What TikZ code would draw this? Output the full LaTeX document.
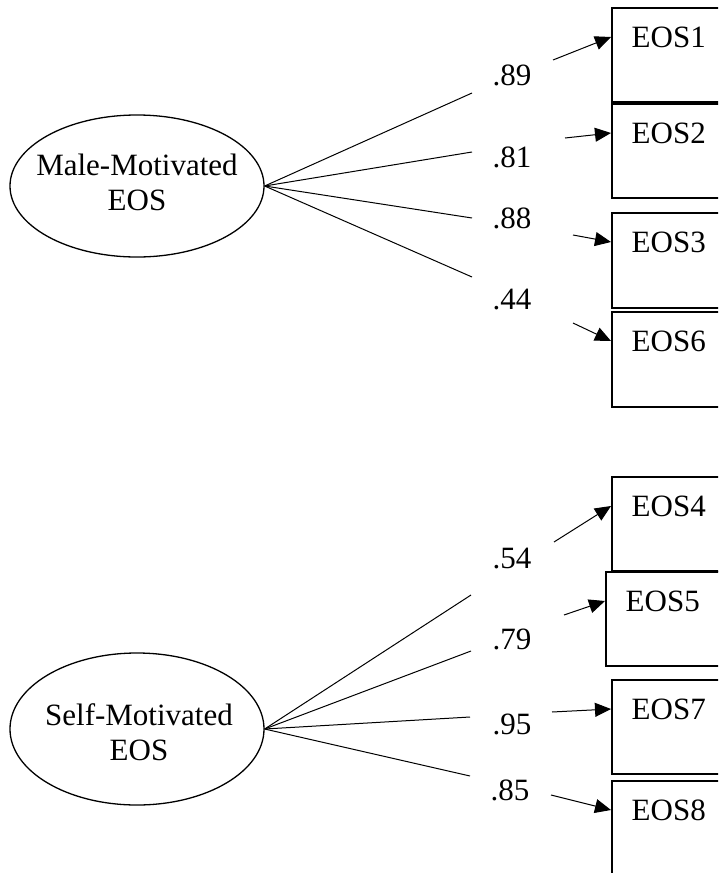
\documentclass[tikz,border=0pt]{standalone}
\usepackage{fontspec}
\setmainfont{Liberation Serif}
\usetikzlibrary{shapes.geometric,arrows.meta}
\begin{document}
\begin{tikzpicture}[x=1pt,y=-1pt,
  txt/.style={font=\fontsize{31}{35}\selectfont, inner sep=0pt},
  latent/.style={ellipse, draw, line width=1.3pt, inner sep=0pt, minimum width=254pt},
  obsbox/.style={draw, line width=1.5pt, minimum width=114pt, inner sep=0pt, anchor=north west},
  load/.style={line width=1pt},
  err/.style={line width=1pt, -{Triangle[length=16pt,width=14pt]}}]
\fill[white] (0,0) rectangle (718,873);
\useasboundingbox (0,0) rectangle (718,873);
\clip (0,0) rectangle (718,873);

% observed boxes
\node[obsbox, minimum height=94pt] (b1) at (611,7) {};
\node[obsbox, minimum height=94pt] (b2) at (611,103) {};
\node[obsbox, minimum height=95pt] (b3) at (611,212) {};
\node[obsbox, minimum height=95pt] (b6) at (611,311) {};
\node[obsbox, minimum height=94pt] (b4) at (611,476) {};
\node[obsbox, minimum height=94pt] (b5) at (605,571) {};
\node[obsbox, minimum height=94pt] (b7) at (611,679) {};
\node[obsbox, minimum height=96pt] (b8) at (611,780) {};
\foreach \b/\t in {b1/EOS1,b2/EOS2,b3/EOS3,b6/EOS6,b4/EOS4,b5/EOS5,b7/EOS7,b8/EOS8}{
  \node[txt] (t\b) at ([yshift=-30pt]\b.north) {\t};
}

% latent ellipses
\node[latent, minimum height=142pt] (m) at (137,186) {};
\node[txt, align=center] (mt) at (137,182.5) {Male-Motivated\\EOS};
\node[latent, minimum height=152pt] (s) at (137,729) {};
\node[txt, align=center] (st) at (139,732) {Self-Motivated\\EOS};

% loading line ends
\coordinate (m1) at (472,93);
\coordinate (m2) at (472,152);
\coordinate (m3) at (472,218);
\coordinate (m4) at (472,277);
\coordinate (s1) at (471,595);
\coordinate (s2) at (471,651);
\coordinate (s3) at (470,717);
\coordinate (s4) at (470,776);
\foreach \c in {m1,m2,m3,m4}{\draw[load] (m.east) -- (\c);}
\foreach \c in {s1,s2,s3,s4}{\draw[load] (s.east) -- (\c);}

% loadings
\node[txt] (l1) at (512,75) {.89};
\node[txt] (l2) at (512,157) {.81};
\node[txt] (l3) at (512,218) {.88};
\node[txt] (l6) at (512,300) {.44};
\node[txt] (l4) at (512,559) {.54};
\node[txt] (l5) at (512,639) {.79};
\node[txt] (l7) at (512,724) {.95};
\node[txt] (l8) at (510,790) {.85};

% arrows into boxes
\coordinate (a1) at (553,60);
\coordinate (a2) at (565,138);
\coordinate (a3) at (573,235);
\coordinate (a6) at (573,323);
\coordinate (a4) at (554,542);
\coordinate (a5) at (564,615);
\coordinate (a7) at (552,712);
\coordinate (a8) at (551,795);
\foreach \n in {1,2,3,6,4,5,7,8}{
  \draw[err] (a\n) -- (b\n.west |- tb\n.center);
}
\end{tikzpicture}
\end{document}
